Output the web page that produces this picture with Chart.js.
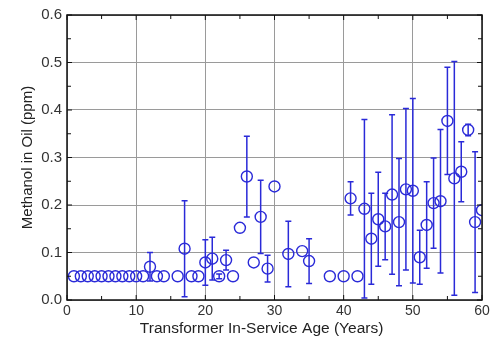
<!DOCTYPE html>
<html>
<head>
<meta charset="utf-8">
<script src="https://cdn.jsdelivr.net/npm/chart.js@4"></script>
<style>
  html, body { margin: 0; padding: 0; background: #fff; }
  #wrap { width: 498px; height: 338px; }
</style>
</head>
<body>
<div id="wrap"><canvas id="chart" width="498" height="338"></canvas></div>
<script>
// transformer age (years), methanol (ppm), +/- error (0 = no bar)
const ages = [1, 2, 3, 4, 5, 6, 7, 8, 9, 10, 11, 12, 13, 14, 16, 17, 18, 19, 20, 21,
  22, 23, 24, 25, 26, 27, 28, 29, 30, 32, 34, 35, 38, 40, 41, 42, 43, 44, 45, 46,
  47, 48, 49, 50, 51, 52, 53, 54, 55, 56, 57, 58, 59, 60];
const methanol = [0.05, 0.05, 0.05, 0.05, 0.05, 0.05, 0.05, 0.05, 0.05, 0.05, 0.05, 0.07, 0.05, 0.05, 0.05, 0.108, 0.05, 0.05, 0.079, 0.087,
  0.05, 0.084, 0.05, 0.152, 0.26, 0.079, 0.175, 0.066, 0.239, 0.097, 0.103, 0.082, 0.05, 0.05, 0.214, 0.05, 0.192, 0.129, 0.17, 0.155,
  0.222, 0.164, 0.233, 0.23, 0.09, 0.158, 0.204, 0.208, 0.377, 0.256, 0.27, 0.358, 0.164, 0.189];
const errors = [0, 0, 0, 0, 0, 0, 0, 0, 0, 0, 0, 0.03, 0, 0, 0, 0.101, 0, 0, 0.048, 0.045,
  0.005, 0.021, 0, 0, 0.085, 0, 0.077, 0.028, 0, 0.069, 0, 0.047, 0, 0, 0.035, 0, 0.188, 0.096, 0.099, 0.07,
  0.168, 0.134, 0.17, 0.194, 0.057, 0.091, 0.095, 0.151, 0.113, 0.246, 0.063, 0.012, 0.148, 0];
const xTicks = [0, 10, 20, 30, 40, 50, 60];
const yTicks = [0, 0.1, 0.2, 0.3, 0.4, 0.5, 0.6];

const blue = '#2a2ad8';
const points = ages.map((a, i) => ({ x: a, y: methanol[i] }));

// error bars drawn before the circles
const errorBars = {
  id: 'errorBars',
  beforeDatasetsDraw(chart) {
    const { ctx, chartArea, scales: { x, y } } = chart;
    ctx.save();
    ctx.beginPath();
    ctx.rect(chartArea.left, chartArea.top, chartArea.width, chartArea.height);
    ctx.clip();
    ctx.strokeStyle = blue;
    ctx.lineWidth = 1.5;
    ages.forEach((a, i) => {
      if (!errors[i]) return;
      const px = x.getPixelForValue(a);
      const top = y.getPixelForValue(methanol[i] + errors[i]);
      const bot = y.getPixelForValue(methanol[i] - errors[i]);
      ctx.beginPath();
      ctx.moveTo(px, top); ctx.lineTo(px, bot);
      ctx.moveTo(px - 3, top); ctx.lineTo(px + 3, top);
      ctx.moveTo(px - 3, bot); ctx.lineTo(px + 3, bot);
      ctx.stroke();
    });
    ctx.restore();
  }
};

// frame and inward ticks on all four sides
const frame = {
  id: 'frame',
  afterDraw(chart) {
    const { ctx, chartArea: c, scales: { x, y } } = chart;
    ctx.save();
    ctx.strokeStyle = '#111';
    ctx.lineWidth = 1;
    for (let v = 0; v <= 60; v += 5) {
      const px = x.getPixelForValue(v);
      const len = v % 10 === 0 ? 5 : 4;
      ctx.beginPath();
      ctx.moveTo(px, c.bottom); ctx.lineTo(px, c.bottom - len);
      ctx.moveTo(px, c.top); ctx.lineTo(px, c.top + len);
      ctx.stroke();
    }
    for (let k = 0; k <= 12; k++) {
      const py = y.getPixelForValue(k * 0.05);
      const len = k % 2 === 0 ? 5 : 4;
      ctx.beginPath();
      ctx.moveTo(c.left, py); ctx.lineTo(c.left + len, py);
      ctx.moveTo(c.right, py); ctx.lineTo(c.right - len, py);
      ctx.stroke();
    }
    ctx.lineWidth = 1.5;
    ctx.strokeRect(c.left, c.top, c.right - c.left, c.bottom - c.top);
    ctx.restore();
  }
};

new Chart(document.getElementById('chart'), {
  type: 'scatter',
  data: {
    datasets: [{
      data: points,
      pointStyle: 'circle',
      pointRadius: 5.5,
      pointHoverRadius: 5.5,
      pointBorderWidth: 1.4,
      borderColor: blue,
      backgroundColor: 'rgba(255,255,255,0)',
      clip: 0
    }]
  },
  options: {
    responsive: false,
    animation: false,
    events: [],
    layout: { padding: { left: 0, right: 16, top: 15, bottom: 0 } },
    plugins: { legend: { display: false }, tooltip: { enabled: false } },
    scales: {
      x: {
        type: 'linear',
        min: 0, max: 60,
        afterBuildTicks(scale) { scale.ticks = xTicks.map(v => ({ value: v })); },
        afterFit(scale) { scale.height = 38; },
        grid: { color: '#9a9a9a', lineWidth: 1, drawTicks: false },
        border: { display: false },
        ticks: { color: '#333', padding: 3, font: { family: 'Liberation Sans', size: 14 } },
        title: {
          display: true,
          // trailing no-break spaces nudge the title left like the original
          text: 'Transformer In-Service Age (Years)\u00a0\u00a0\u00a0\u00a0\u00a0\u00a0',
          color: '#222', padding: { top: 0, bottom: 0 },
          font: { family: 'Liberation Sans', size: 15.5 }
        }
      },
      y: {
        type: 'linear',
        min: 0, max: 0.6,
        afterBuildTicks(scale) { scale.ticks = yTicks.map(v => ({ value: v })); },
        afterFit(scale) { scale.width = 67; },
        grid: { color: '#9a9a9a', lineWidth: 1, drawTicks: false },
        border: { display: false },
        ticks: {
          color: '#333', padding: 5,
          font: { family: 'Liberation Sans', size: 15 },
          callback: v => v.toFixed(1)
        },
        title: {
          display: true, text: 'Methanol in Oil (ppm)',
          color: '#222', padding: { top: 19, bottom: 0 },
          font: { family: 'Liberation Sans', size: 15 }
        }
      }
    }
  },
  plugins: [errorBars, frame]
});
</script>
</body>
</html>
